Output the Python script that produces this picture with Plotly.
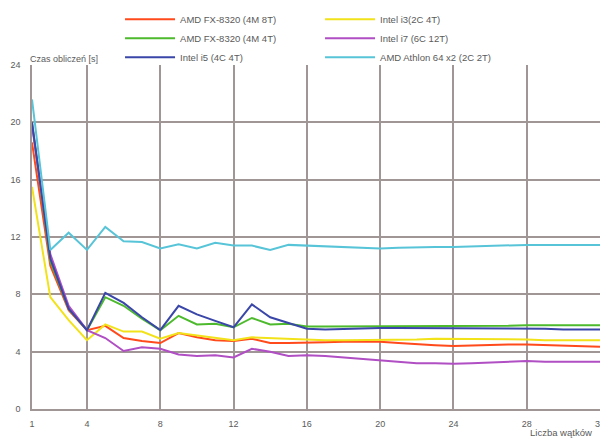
import plotly.graph_objects as go

threads = list(range(1, 33))

names = ["AMD FX-8320 (4M 8T)", "Intel i3(2C 4T)", "AMD FX-8320 (4M 4T)",
         "Intel i7 (6C 12T)", "Intel i5 (4C 4T)", "AMD Athlon 64 x2 (2C 2T)"]

amd_fx_8t = [18.6, 10.0, 6.9, 5.5, 5.8, 4.95, 4.75, 4.6, 5.3, 5.0, 4.8, 4.75, 4.9, 4.6, 4.6, 4.6,
             4.65, 4.7, 4.7, 4.7, 4.6, 4.5, 4.45, 4.4, 4.45, 4.45, 4.5, 4.5, 4.45, 4.4, 4.4, 4.35]
intel_i3 = [15.5, 7.8, 6.2, 4.8, 5.9, 5.4, 5.4, 4.9, 5.3, 5.15, 5.0, 4.8, 5.0, 4.95, 4.9, 4.8,
            4.8, 4.8, 4.8, 4.8, 4.85, 4.85, 4.9, 4.9, 4.85, 4.85, 4.85, 4.85, 4.8, 4.8, 4.8, 4.8]
amd_fx_4t = [20.0, 10.3, 7.0, 5.5, 7.8, 7.2, 6.3, 5.5, 6.5, 5.9, 5.95, 5.7, 6.35, 5.9, 5.95, 5.75,
             5.75, 5.75, 5.75, 5.75, 5.8, 5.8, 5.8, 5.8, 5.8, 5.8, 5.8, 5.85, 5.85, 5.85, 5.85, 5.85]
intel_i7 = [19.8, 10.8, 7.2, 5.5, 4.95, 4.05, 4.3, 4.2, 3.8, 3.7, 3.75, 3.6, 4.2, 4.0, 3.7, 3.75,
            3.7, 3.6, 3.5, 3.4, 3.3, 3.2, 3.2, 3.15, 3.2, 3.25, 3.3, 3.35, 3.3, 3.3, 3.3, 3.3]
intel_i5 = [20.0, 10.5, 7.0, 5.5, 8.1, 7.4, 6.4, 5.5, 7.2, 6.6, 6.15, 5.7, 7.3, 6.4, 6.0, 5.6,
            5.55, 5.6, 5.65, 5.65, 5.65, 5.65, 5.65, 5.65, 5.65, 5.65, 5.65, 5.65, 5.6, 5.55, 5.55, 5.55]
amd_athlon = [21.6, 11.1, 12.3, 11.1, 12.7, 11.7, 11.65, 11.2, 11.5, 11.2, 11.6, 11.4, 11.4, 11.1, 11.45, 11.4,
              11.35, 11.3, 11.25, 11.2, 11.25, 11.3, 11.3, 11.3, 11.35, 11.4, 11.45, 11.45, 11.45, 11.45, 11.45, 11.45]

series = [amd_fx_8t, intel_i3, amd_fx_4t, intel_i7, intel_i5, amd_athlon]
colors = ["#ff4a1c", "#f2e21a", "#4cba2c", "#b04ec4", "#3a46a8", "#58c4d8"]

x_ticks = [1, 4, 8, 12, 16, 20, 24, 28, 32]
y_ticks = [0, 4, 8, 12, 16, 20, 24]

FONT = "Liberation Sans"
TXT = "#5a5a5a"
GRID = "#a09696"

fig = go.Figure()
for name, vals, col in zip(names, series, colors):
    fig.add_trace(go.Scatter(x=threads, y=vals, mode="lines", name=name,
                             line=dict(color=col, width=2)))

fig.update_layout(
    width=600, height=438,
    margin=dict(l=32, r=0, t=65, b=29, autoexpand=False),
    paper_bgcolor="white", plot_bgcolor="white",
    font=dict(family=FONT, size=9, color=TXT),
    showlegend=True,
    legend=dict(orientation="h", x=0.155, xanchor="left", y=1.175, yanchor="top",
                entrywidth=135, entrywidthmode="pixels", itemwidth=50,
                font=dict(family=FONT, size=9.5, color=TXT),
                bgcolor="rgba(0,0,0,0)", tracegroupgap=0),
    xaxis=dict(range=[1, 32], tickvals=x_ticks, ticktext=[str(v) for v in x_ticks],
               showgrid=True, gridcolor=GRID, gridwidth=1.5,
               showline=True, linecolor=GRID, linewidth=1.5,
               zeroline=False, ticks="", ticklabeloverflow="allow",
               ticklabelstandoff=5,
               tickfont=dict(family=FONT, size=9, color=TXT)),
    yaxis=dict(range=[0, 24], tickvals=y_ticks,
               showgrid=True, gridcolor=GRID, gridwidth=1.5,
               showline=True, linecolor=GRID, linewidth=1.5,
               zeroline=False, ticks="", ticklabelstandoff=8,
               tickfont=dict(family=FONT, size=9, color=TXT)),
    annotations=[
        dict(text="Czas obliczeń [s]", xref="paper", yref="paper", x=-0.007, y=1.0,
             xanchor="left", yanchor="bottom", showarrow=False, yshift=-1,
             font=dict(family=FONT, size=9, color=TXT)),
        dict(text="Liczba wątków", xref="paper", yref="paper", x=0.99, y=0,
             xanchor="right", yanchor="top", showarrow=False, yshift=-16,
             font=dict(family=FONT, size=9.5, color=TXT)),
    ],
)

fig.write_html("out.html", config={"displayModeBar": False},
               post_script="document.body.style.margin='0';document.body.style.overflow='hidden';")
